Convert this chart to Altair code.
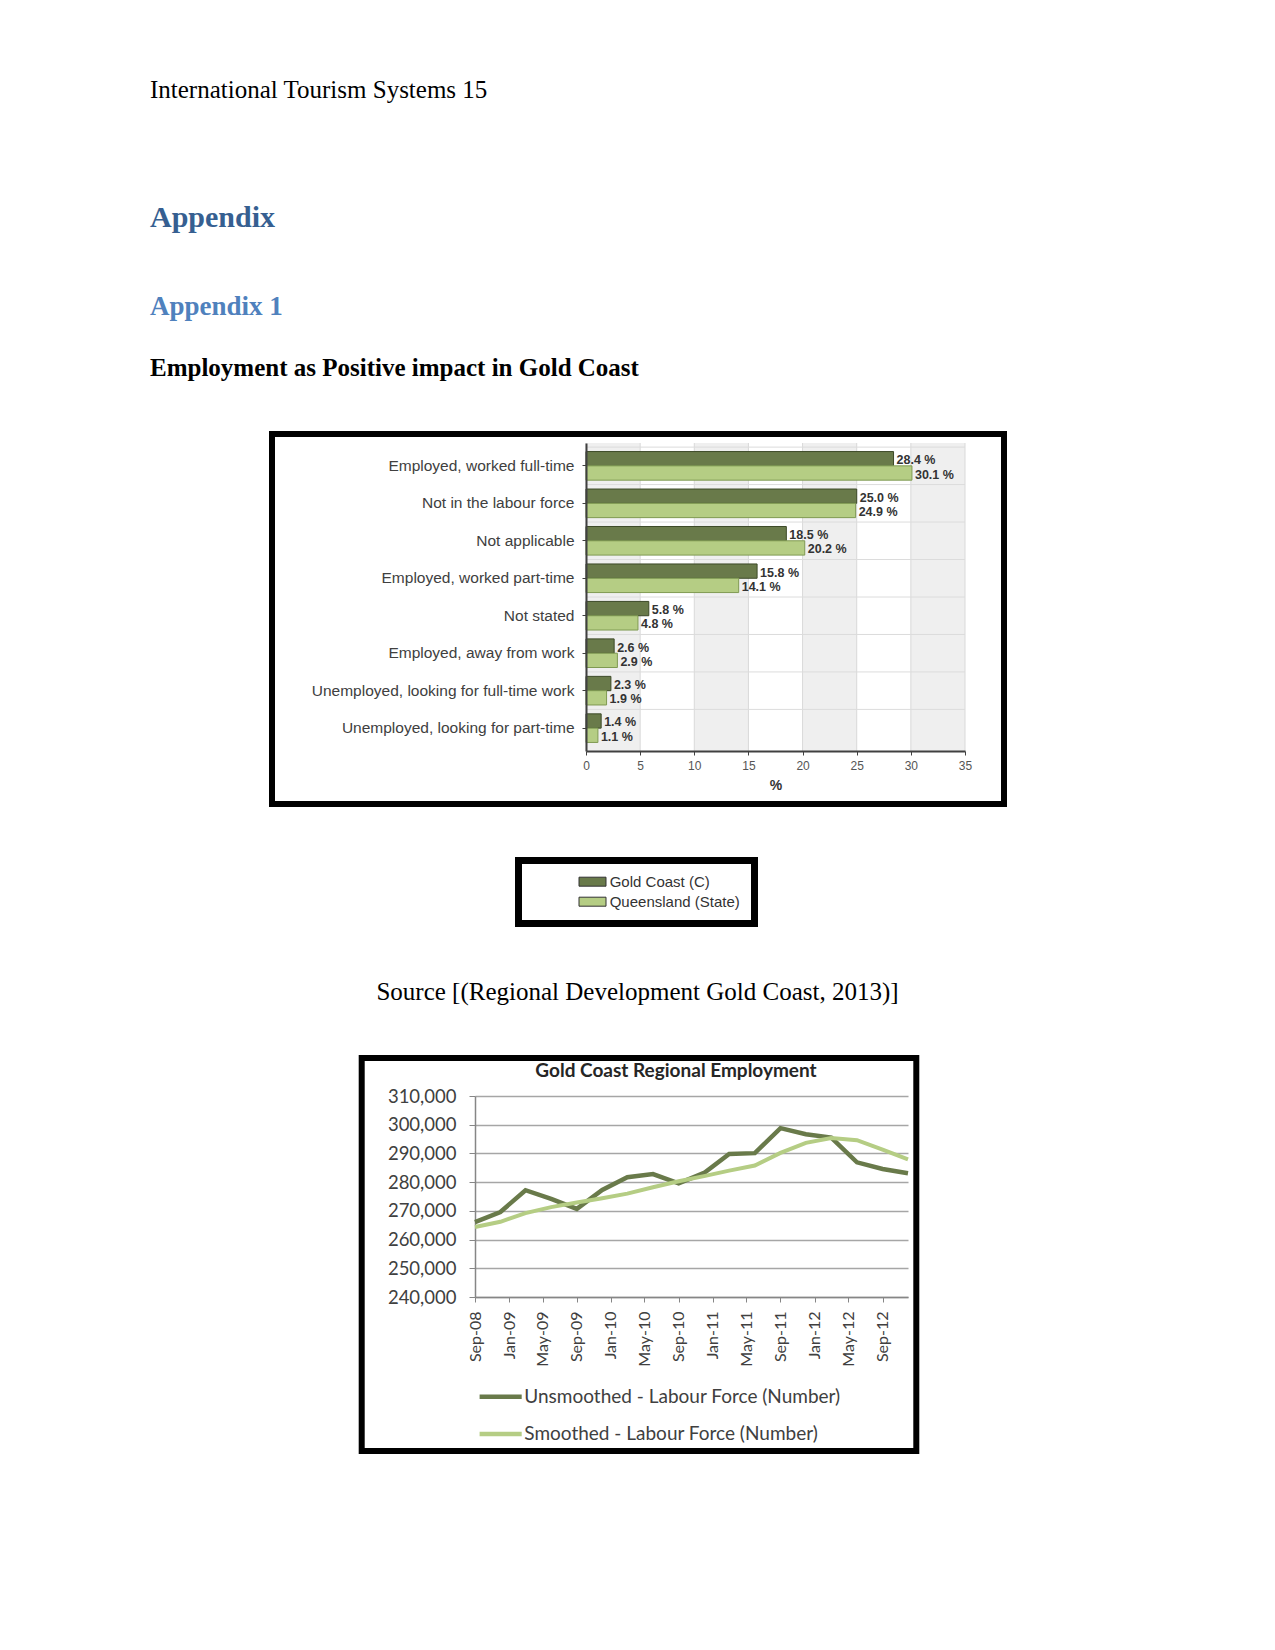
import altair as alt
import pandas as pd

# ---------------- text of the page ----------------
page_header = "International Tourism Systems 15"
heading1 = "Appendix"
heading2 = "Appendix 1"
heading3 = "Employment as Positive impact in Gold Coast"
source_text = "Source [(Regional Development Gold Coast, 2013)]"

# ---------------- bar chart data ----------------
categories = [
    "Employed, worked full-time",
    "Not in the labour force",
    "Not applicable",
    "Employed, worked part-time",
    "Not stated",
    "Employed, away from work",
    "Unemployed, looking for full-time work",
    "Unemployed, looking for part-time",
]
series_bar = ["Gold Coast (C)", "Queensland (State)"]
gold_coast = [28.4, 25.0, 18.5, 15.8, 5.8, 2.6, 2.3, 1.4]
queensland = [30.1, 24.9, 20.2, 14.1, 4.8, 2.9, 1.9, 1.1]
x_ticks_bar = [0, 5, 10, 15, 20, 25, 30, 35]
band_starts = [0, 10, 20, 30]
band_ends = [5, 15, 25, 35]
bar_x_title = "%"

# ---------------- line chart data ----------------
line_title = "Gold Coast Regional Employment"
series_line = ["Unsmoothed - Labour Force (Number)", "Smoothed - Labour Force (Number)"]
quarters = ["2008-09", "2008-12", "2009-03", "2009-06", "2009-09", "2009-12",
            "2010-03", "2010-06", "2010-09", "2010-12", "2011-03", "2011-06",
            "2011-09", "2011-12", "2012-03", "2012-06", "2012-09", "2012-12"]
unsmoothed = [266100, 269600, 277200, 274200, 270700, 277300, 281700, 282800, 279600,
              283200, 289800, 290100, 298800, 296700, 295500, 286900, 284600, 283100]
smoothed = [264400, 266200, 269200, 271300, 272900, 274400, 276000, 278200, 280300,
            282100, 284000, 285800, 290200, 293700, 295400, 294600, 291300, 287900]
x_tick_months = ["2008-09", "2009-01", "2009-05", "2009-09", "2010-01", "2010-05", "2010-09",
                 "2011-01", "2011-05", "2011-09", "2012-01", "2012-05", "2012-09"]
x_domain_months = ["2008-09", "2012-12"]
y_ticks_line = [240000, 250000, 260000, 270000, 280000, 290000, 300000, 310000]

SERIF = "Liberation Serif"
SANS = "Liberation Sans"
CAL = "Lato"

PAGE_W = 1259

BAR_COLORS = ["#697a4a", "#b5cd84"]
BAR_STROKES = ["#3d4a28", "#7f9a52"]
LINE_COLORS = ["#526a2c", "#9dc35c"]


def text_layer(txt, x, y, size, weight="normal", color="black", font=SERIF,
               align="left", baseline="alphabetic"):
    return alt.Chart(pd.DataFrame({"t": [txt]})).mark_text(
        align=align, baseline=baseline, font=font, fontSize=size,
        fontWeight=weight, color=color
    ).encode(text="t:N", x=alt.value(x), y=alt.value(y))


def frame_layer(x1, x2, y1, y2, width):
    return alt.Chart(pd.DataFrame({"k": [0]})).mark_rect(
        fillOpacity=0, stroke="black", strokeWidth=width
    ).encode(x=alt.value(x1), x2=alt.value(x2), y=alt.value(y1), y2=alt.value(y2))


def spacer(w):
    return alt.Chart(pd.DataFrame({"k": [0]})).mark_point(opacity=0, size=0).encode(
        x=alt.value(0), y=alt.value(0)
    ).properties(width=w, height=1)


# ---------------- header block ----------------
header = alt.layer(
    text_layer(page_header, 142, 90.3, 25),
    text_layer(heading1, 142, 218.7, 30, weight="bold", color="#365F91"),
    text_layer(heading2, 142, 307, 27, weight="bold", color="#4F81BD"),
    text_layer(heading3, 142, 368, 25, weight="bold"),
).properties(width=PAGE_W, height=423)

# ---------------- bar chart ----------------
bar_df = pd.DataFrame({
    "category": categories * 2,
    "series": [series_bar[0]] * len(categories) + [series_bar[1]] * len(categories),
    "value": gold_coast + queensland,
})
band_df = pd.DataFrame({"start": band_starts, "end": band_ends})
vrule_df = pd.DataFrame({"value": x_ticks_bar})
hrule_df = pd.DataFrame({"category": categories})

x_axis_bar = alt.Axis(
    values=x_ticks_bar, title=bar_x_title, titleFont=SANS, titleFontSize=14,
    titleFontWeight="bold", titleColor="#333333", titlePadding=7,
    labelFont=SANS, labelFontSize=12, labelColor="#555555", labelPadding=5,
    labelFlush=False, tickSize=4, tickColor="#404040", domainColor="#404040",
    domainWidth=2, grid=False, zindex=1,
)
x_scale_bar = alt.Scale(domain=[0, 35], nice=False, zero=True)
y_axis_bar = alt.Axis(
    title=None, labelFont=SANS, labelFontSize=15.5, labelColor="#404040",
    labelLimit=400, labelPadding=8, tickSize=4, tickColor="#404040",
    domainColor="#404040", domainWidth=2, grid=False, zindex=1,
)
y_scale_bar = alt.Scale(paddingInner=0, paddingOuter=0.11)
bar_color_scale = alt.Scale(domain=series_bar, range=BAR_COLORS)
bar_stroke_scale = alt.Scale(domain=series_bar, range=BAR_STROKES)
y_off = alt.YOffset("series:N", sort=series_bar,
                    scale=alt.Scale(paddingInner=0, paddingOuter=0.31))

bands = alt.Chart(band_df).mark_rect(color="#efefef").encode(
    x=alt.X("start:Q", scale=x_scale_bar, axis=x_axis_bar),
    x2="end:Q",
)
vrules = alt.Chart(vrule_df).mark_rule(color="#d9d9d9", strokeWidth=1).encode(
    x=alt.X("value:Q", scale=x_scale_bar, axis=x_axis_bar),
)
hrules = alt.Chart(hrule_df).mark_rule(color="#dcdcdc", strokeWidth=1).encode(
    y=alt.Y("category:N", sort=categories, bandPosition=0, scale=y_scale_bar, axis=y_axis_bar),
)
bars = alt.Chart(bar_df).mark_bar(strokeWidth=1).encode(
    x=alt.X("value:Q", scale=x_scale_bar, axis=x_axis_bar),
    y=alt.Y("category:N", sort=categories, scale=y_scale_bar, axis=y_axis_bar),
    yOffset=y_off,
    color=alt.Color("series:N", sort=series_bar, scale=bar_color_scale, legend=None),
    stroke=alt.Stroke("series:N", sort=series_bar, scale=bar_stroke_scale, legend=None),
)
bar_labels = alt.Chart(bar_df).transform_calculate(
    label="format(datum.value, '.1f') + ' %'"
).mark_text(
    align="left", baseline="middle", dx=3, dy=1.5, font=SANS, fontSize=12.5,
    fontWeight="bold", color="#333333"
).encode(
    x=alt.X("value:Q", scale=x_scale_bar, axis=x_axis_bar),
    y=alt.Y("category:N", sort=categories, scale=y_scale_bar, axis=y_axis_bar),
    yOffset=y_off,
    text="label:N",
)

# legend of the bar chart (drawn in its own framed box below the chart)
bar_legend_layers = []
for i, s in enumerate(series_bar):
    d = pd.DataFrame({"series": [s]})
    yc = 438.7 + 20 * i
    bar_legend_layers.append(
        alt.Chart(d).mark_rect(strokeWidth=1).encode(
            x=alt.value(-7), x2=alt.value(20), y=alt.value(yc - 4.5), y2=alt.value(yc + 4.5),
            color=alt.Color("series:N", scale=bar_color_scale, legend=None),
            stroke=alt.value("#333333"),
        )
    )
    bar_legend_layers.append(
        alt.Chart(d).mark_text(align="left", baseline="middle", font=SANS, fontSize=15,
                               color="#333333").encode(
            text="series:N", x=alt.value(23.7), y=alt.value(yc)
        )
    )

bar_chart = alt.layer(
    bands, vrules, hrules, bars, bar_labels,
    frame_layer(-314, 418, -9, 361, 6),
    frame_layer(-67.5, 168.5, 417.5, 480.5, 7),
    *bar_legend_layers,
).properties(width=379, height=308)

bar_row = alt.hconcat(spacer(261), bar_chart, spacing=0, bounds="full")

# ---------------- middle block (source) ----------------
middle = alt.layer(
    text_layer(source_text, 629.5, 73, 25, align="center"),
).properties(width=PAGE_W, height=128)

# ---------------- line chart ----------------
def month_dt(s):
    y, m = s.split("-")
    return alt.DateTime(year=int(y), month=int(m), date=1)


line_df = pd.DataFrame({
    "date": [q + "-01T00:00:00" for q in quarters] * 2,
    "series": [series_line[0]] * len(quarters) + [series_line[1]] * len(quarters),
    "value": unsmoothed + smoothed,
})

x_line = alt.X(
    "date:T",
    scale=alt.Scale(domain=[month_dt(x_domain_months[0]), month_dt(x_domain_months[1])]),
    axis=alt.Axis(
        values=[month_dt(s) for s in x_tick_months], format="%b-%y", labelAngle=-90,
        title=None, labelFont=CAL, labelFontSize=16, labelColor="#404040",
        tickSize=5, tickColor="#868686", domainColor="#868686", domainWidth=1.5,
        labelPadding=9, grid=False, labelFlush=False, labelOverlap=False,
    ),
)
y_line = alt.Y(
    "value:Q",
    scale=alt.Scale(domain=[240000, 310000], nice=False, zero=False),
    axis=alt.Axis(
        values=y_ticks_line, format=",.0f", title=None, labelFont=CAL,
        labelFontSize=18.5, labelColor="#404040", tickSize=6, tickColor="#868686",
        domainColor="#868686", domainWidth=1.5, labelPadding=13, grid=True,
        gridColor="#a6a6a6", gridWidth=1.3,
    ),
)
line_color_scale = alt.Scale(domain=series_line, range=LINE_COLORS)
color_line = alt.Color("series:N", sort=series_line, scale=line_color_scale, legend=None)

line_un = alt.Chart(line_df).transform_filter(
    alt.datum.series == series_line[0]
).mark_line(strokeWidth=4.5).encode(x=x_line, y=y_line, color=color_line)
line_sm = alt.Chart(line_df).transform_filter(
    alt.datum.series == series_line[1]
).mark_line(strokeWidth=4).encode(x=x_line, y=y_line, color=color_line)

line_legend_layers = []
for i, s in enumerate(series_line):
    d = pd.DataFrame({"series": [s]})
    yc = 300.7 + 37.3 * i
    line_legend_layers.append(
        alt.Chart(d).mark_rule(strokeWidth=4.5).encode(
            x=alt.value(4.6), x2=alt.value(46.7), y=alt.value(yc),
            color=alt.Color("series:N", scale=line_color_scale, legend=None),
        )
    )
    line_legend_layers.append(
        alt.Chart(d).mark_text(align="left", baseline="middle", font=CAL, fontSize=19,
                               color="#404040").encode(
            text="series:N", x=alt.value(49.3), y=alt.value(yc)
        )
    )

line_chart = alt.layer(
    line_un, line_sm,
    text_layer(line_title, 201, -25, 19, weight="bold", color="#262626",
               font=CAL, align="center", baseline="middle"),
    frame_layer(-113.3, 441.3, -38, 355, 6),
    *line_legend_layers,
).properties(width=433, height=201)

line_row = alt.hconcat(spacer(349.7), line_chart, spacing=0, bounds="full")

chart = alt.vconcat(
    header, bar_row, middle, line_row,
    spacing=0, bounds="full",
).properties(padding=0).configure_view(strokeWidth=0)

chart.save("out.html", embed_options={"renderer": "svg", "actions": False})
